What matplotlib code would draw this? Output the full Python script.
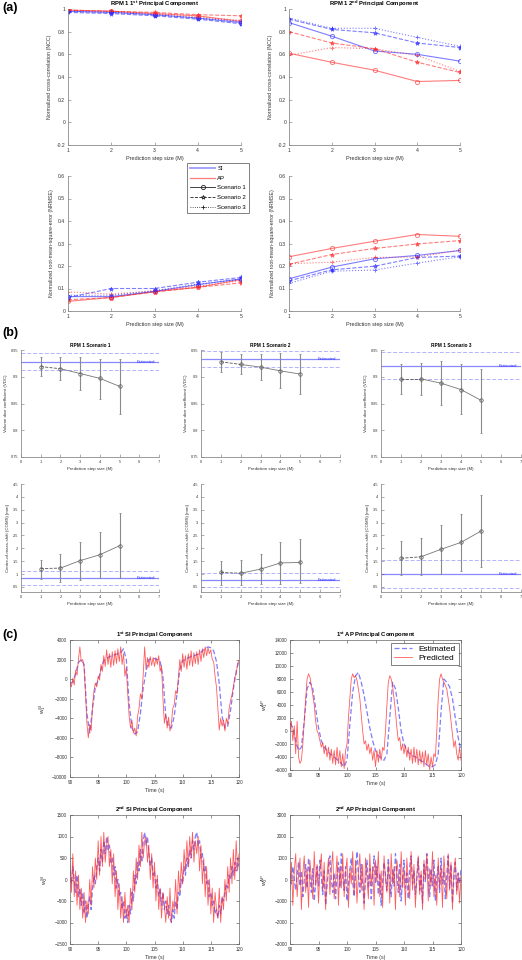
import numpy as np
import matplotlib
matplotlib.use('Agg')
import matplotlib.pyplot as plt
from matplotlib.lines import Line2D

plt.rcParams['font.family'] = ['Liberation Sans', 'DejaVu Sans']
plt.rcParams['mathtext.fontset'] = 'custom'
plt.rcParams['mathtext.rm'] = 'Liberation Sans'
plt.rcParams['mathtext.it'] = 'Liberation Sans:italic'
plt.rcParams['mathtext.bf'] = 'Liberation Sans:bold'

# ---------------- (a) prediction metrics vs step size ----------------
steps = [1, 2, 3, 4, 5]
scen_names = ['Scenario 1', 'Scenario 2', 'Scenario 3']

# rows: scenario 1, 2, 3
ncc_pc1_si = [[0.98, 0.97, 0.95, 0.92, 0.88],
              [0.97, 0.96, 0.94, 0.91, 0.87],
              [0.98, 0.97, 0.95, 0.92, 0.89]]
ncc_pc1_ap = [[0.99, 0.98, 0.96, 0.94, 0.89],
              [0.99, 0.98, 0.97, 0.95, 0.94],
              [0.99, 0.98, 0.96, 0.93, 0.90]]
ncc_pc2_si = [[0.88, 0.76, 0.63, 0.60, 0.54],
              [0.91, 0.82, 0.79, 0.70, 0.66],
              [0.92, 0.83, 0.83, 0.75, 0.67]]
ncc_pc2_ap = [[0.61, 0.53, 0.46, 0.36, 0.37],
              [0.80, 0.70, 0.65, 0.53, 0.44],
              [0.59, 0.66, 0.65, 0.59, 0.45]]
nrmse_pc1_si = [[0.064, 0.064, 0.087, 0.117, 0.143],
                [0.060, 0.100, 0.100, 0.128, 0.149],
                [0.070, 0.070, 0.090, 0.120, 0.140]]
nrmse_pc1_ap = [[0.043, 0.060, 0.086, 0.105, 0.140],
                [0.050, 0.060, 0.085, 0.105, 0.125],
                [0.085, 0.075, 0.090, 0.110, 0.135]]
nrmse_pc2_si = [[0.143, 0.195, 0.232, 0.247, 0.269],
                [0.134, 0.183, 0.199, 0.238, 0.244],
                [0.123, 0.177, 0.182, 0.213, 0.241]]
nrmse_pc2_ap = [[0.241, 0.278, 0.310, 0.340, 0.332],
                [0.208, 0.251, 0.278, 0.298, 0.313],
                [0.210, 0.217, 0.238, 0.240, 0.270]]

# ---------------- (b) VDC / COMS with error bars ----------------
vdc_mean = [[0.919, 0.915, 0.906, 0.897, 0.882],
            [0.928, 0.923, 0.918, 0.911, 0.905],
            [0.896, 0.896, 0.888, 0.876, 0.856]]
vdc_low = [[0.902, 0.893, 0.876, 0.859, 0.830],
           [0.909, 0.905, 0.893, 0.879, 0.868],
           [0.867, 0.865, 0.847, 0.830, 0.795]]
vdc_high = [[0.936, 0.936, 0.936, 0.933, 0.933],
            [0.946, 0.942, 0.942, 0.944, 0.942],
            [0.924, 0.926, 0.929, 0.924, 0.915]]
vdc_est = [0.928, 0.933, 0.921]
vdc_est_low = [0.912, 0.918, 0.895]
vdc_est_high = [0.944, 0.949, 0.946]

coms_mean = [[1.21, 1.23, 1.52, 1.75, 2.10],
             [1.06, 1.03, 1.19, 1.43, 1.45],
             [1.61, 1.67, 1.96, 2.23, 2.67]]
coms_low = [[0.81, 0.70, 0.75, 0.85, 0.85],
            [0.59, 0.59, 0.60, 0.61, 0.65],
            [0.95, 0.95, 1.01, 1.10, 1.26]]
coms_high = [[1.56, 1.78, 2.24, 2.65, 3.36],
             [1.49, 1.53, 1.78, 2.25, 2.37],
             [2.28, 2.41, 2.90, 3.35, 4.09]]
coms_est = [0.85, 0.77, 1.00]
coms_est_low = [0.57, 0.51, 0.45]
coms_est_high = [1.13, 1.03, 1.55]

# ---------------- (c) principal component time series ----------------
si1_est = [-450, -300, 600, 1700, 2000, 1500, -3500, -5500, -3000, -800,
           -100, 1000, 1900, 2100, 2300, 2400, 2500, 2600, 2700, 3100,
           2000, -2500, -5000, -5600, -5400, -3500, -900, 800, 2000, 2100,
           2100, 2000, 1800, 250, -3800, -4800, -5000, -3800, -1500, 1000,
           1900, 2000, 2200, 2300, 2400, 2500, 2600, 2900, 3100, 3300,
           3200, 2900, 1800, -500, -3800, -5000, -4800, -3200, -1000, 800,
           1900]
si1_pred = [-300, -800, 100, -600, 900, 400, 2000, 3300, 1800, 2000,
            1200, -1500, -4500, -6000, -4600, -5300, -2800, -1200, -400, -800,
            300, -100, 1500, 800, 2400, 1300, 3000, 1500, 2600, 1200,
            2800, 1400, 2900, 1600, 3100, 1800, 3300, 1500, 2600, 300,
            1200, -1500, -3800, -5000, -4200, -5500, -5000, -5800, -3800, -3000,
            -1500, -2000, 500, 3300, 1000, 2200, 1200, 2300, 1400, 2200,
            1300, 2200, 1500, 2400, 800, 1400, -2000, -4500, -3600, -5000,
            -3900, -5300, -4500, -3000, -2600, -1200, -1500, 300, 2000, 800,
            2600, 1200, 2400, 1000, 2600, 1400, 2900, 1300, 2700, 1600,
            2800, 1500, 3000, 1800, 3100, 2200, 3300, 2400, 3200, 2600,
            3000, 2000, 1800, 300, -800, -3000, -5200, -4000, -4800, -4200,
            -5300, -4000, -4600, -3000, -2200, -1600, -800, 200, 500, 1600,
            1900]

ap1_est = [1200, 500, -1500, -3000, -2500, 1500, 6500, 7500, 6500, 3500,
           500, -1500, -2500, -3000, -3500, -3800, -4200, -4600, -5000, -5500,
           -4500, 1000, 6000, 8500, 9000, 7500, 5500, 3000, 500, -1500,
           -3000, -3800, -4200, -4500, -3500, 2000, 7500, 6500, 3500, 0,
           -2000, -3000, -3500, -3800, -4000, -4300, -4600, -4800, -5200, -5500,
           -5500, -5200, -3500, 3000, 8000, 7500, 6800, 5000, 2000, -1000,
           -3000]
ap1_pred = [0, 1500, -1500, 800, -3500, 1500, -4000, -5000, -4500, -2000,
            1500, 5000, 8000, 8800, 8300, 7000, 5500, 4000, 1500, 0,
            -500, -1500, -2500, -1800, -3500, -2200, -4000, -2500, -4500, -2800,
            -5000, -3000, -5200, -2500, -5000, -3000, -5500, -3500, -5800, -3000,
            -2000, 2000, 5000, 8000, 8800, 8200, 8500, 7800, 6500, 5000,
            2500, 0, -2000, -1500, -3000, -2000, -3500, -2500, -4500, -3000,
            -5500, -3000, -4800, -2800, -4500, -2500, -3000, 0, 4000, 7500,
            8500, 8000, 7000, 5000, 3000, 500, -1500, -1000, -3000, -2000,
            -3500, -2200, -4000, -2500, -4500, -2800, -5000, -2500, -4800, -2800,
            -5200, -3000, -5000, -3200, -5500, -3000, -5200, -3500, -6000, -4000,
            -5500, -3500, -4000, 0, 5000, 8000, 8800, 8000, 7500, 7000,
            6500, 5000, 3500, 1500, -500, -2500, -1500, -3500, -4500, -2500,
            -4500]

si2_est = [200, -100, 300, 0, -300, 100, -400, -200, -600, -300,
           -800, -500, -900, -600, -400, -700, -200, 100, -100, 300,
           500, 200, 700, 400, 900, 600, 1000, 700, 800, 400,
           500, 100, 300, -200, 0, -400, -300, -700, -500, -900,
           -700, -1000, -600, -800, -300, -500, 100, -100, 400, 200,
           700, 400, 900, 1100, 800, 1000, 600, 300, 500, 100,
           200, -200, 0, -400, -200, -600, -300, -700, -500, -800,
           -600, -900, -1000, -700, -900, -500, -700, -300, -400, 0,
           -100, 300, 100, 500, 300, 700, 500, 900, 700, 1000,
           1100, 800, 900, 500, 600, 200, 300, -100, 0, -400,
           -300, -600, -500, -800, -700, -900, -600, -800, -400, -500,
           -300, -100, -200, 100, 0, 300, 100, 400, 200, 500,
           300]
si2_pred = [500, -300, 600, -400, 200, -600, 100, -700, -200, -900,
            -300, -1000, -500, -800, 0, -600, 300, -200, 500, 0,
            900, 100, 1000, 300, 1100, 400, 800, 1000, 300, 700,
            -100, 600, -400, 200, -700, -100, -900, -400, -1000, -300,
            -900, -600, -1000, -200, -700, 200, -300, 500, 0, 800,
            300, 1100, 500, 900, 1000, 400, 800, 0, 600, -200,
            400, -500, 100, -700, -200, -900, -300, -600, -1000, -400,
            -900, -200, -1000, -500, -700, 0, -800, 200, -300, 400,
            -100, 700, 200, 900, 300, 1000, 500, 1100, 400, 900,
            600, 1000, 200, 800, -100, 500, -400, 300, -600, 0,
            -800, -200, -1000, -300, -700, -900, -200, -1000, -400, -700,
            0, -500, 300, -300, 500, -100, 700, 0, 900, 200,
            600]

ap2_est = [300, -200, 600, 0, -500, 200, 800, -300, 400, -800,
           0, 700, -400, 1000, 200, -600, 500, -1000, -200, 600,
           -300, 900, 100, -700, 400, -1200, -300, 500, 1100, 0,
           -600, 300, -900, 200, 800, -400, 1200, 100, -500, 600,
           -1000, -200, 400, 1000, -100, -800, 300, 1300, 200, -600,
           700, -300, -1100, 0, 900, -400, 500, -900, 100, 1100,
           -200, 600, -700, 300, -1200, -100, 800, 200, -500, 1000,
           0, -800, 500, -300, 1200, 300, -600, 700, -1000, 100,
           900, -400, 300, -900, 600, 1100, -200, 400, -700, 0,
           1000, -500, 200, -1100, 700, -100, 1200, 300, -800, 500,
           -300, 900, -1000, 100, 600, -600, 1000, -200, 400, -900,
           200, 1100, -400, 700, -1100, 0, 800, -500, 300, -200,
           500]
ap2_pred = [-500, 800, -1200, 400, 1200, -800, 200, 1000, -1400, 300,
            1100, -600, 500, -1300, 900, 0, -900, 1300, -300, 700,
            -1100, 400, 1200, -500, 800, -1400, 200, 1000, -700, 500,
            1300, -900, 0, 1100, -1200, 600, -400, 1200, -800, 300,
            1000, -1300, 500, -200, 1300, -700, 900, -1100, 200, 1200,
            -500, 700, -1400, 1000, 100, -900, 1200, -300, 600, -1200,
            900, -100, 1300, -800, 400, -1300, 1100, 0, -600, 800,
            -1100, 1200, -200, 600, -1400, 900, 300, -800, 1300, -400,
            500, -1200, 1000, -100, -900, 1300, -500, 700, -1300, 200,
            1100, -700, 400, -1400, 900, 0, 1200, -1000, 500, -300,
            1300, -800, 200, -1200, 1000, -400, 600, -1300, 1100, 100,
            -900, 1200, -500, 800, -1400, 400, 1000, -700, 300, -1100,
            200]

W, H = 522, 960
fig = plt.figure(figsize=(W / 100, H / 100), dpi=100)


def px_axes(left, top, right, bottom):
    return fig.add_axes([left / W, 1 - bottom / H, (right - left) / W, (bottom - top) / H])


def style_open(ax, fs):
    # matlab style "box off"
    for s in ['top', 'right']:
        ax.spines[s].set_visible(False)
    for s in ['left', 'bottom']:
        ax.spines[s].set_color('#8c8c8c')
        ax.spines[s].set_linewidth(0.6)
    ax.tick_params(direction='in', length=2, width=0.5, color='#8c8c8c',
                   labelsize=fs, labelcolor='#333333', pad=2)


def style_box(ax, fs):
    for s in ax.spines.values():
        s.set_color('#666666')
        s.set_linewidth(0.5)
    ax.tick_params(direction='in', length=2, width=0.5, color='#666666',
                   labelsize=fs, labelcolor='#333333', pad=2,
                   top=True, right=True)


line_styles = ['-', '--', ':']
markers = ['o', '*', '+']
BLUE = (0.15, 0.15, 1.0)
RED = (1.0, 0.15, 0.15)


def metric_panel(ax, si, ap, ylim, yticks, ylabel, title=None):
    for i in range(3):
        for vals, col in [(ap, RED), (si, BLUE)]:
            ax.plot(steps, vals[i], color=col, alpha=0.6, lw=0.8,
                    ls=line_styles[i], marker=markers[i], ms=3,
                    mfc='none' if markers[i] == 'o' else col, mew=0.7)
    ax.set_xlim(1, 5)
    ax.set_xticks(steps)
    ax.set_ylim(*ylim)
    ax.set_yticks(yticks)
    ax.set_yticklabels([f'{v:g}' for v in yticks])
    ax.set_xlabel('Prediction step size (M)', fontsize=4, color='#333333', labelpad=2)
    ax.set_ylabel(ylabel, fontsize=3.8, color='#333333', labelpad=3)
    if title:
        ax.set_title(title, fontsize=4.2, fontweight='bold', pad=2)
    style_open(ax, 3.6)


ncc_ticks = [-0.2, 0, 0.2, 0.4, 0.6, 0.8, 1]
nrmse_ticks = [0, 0.1, 0.2, 0.3, 0.4, 0.5, 0.6]

ax = px_axes(68, 9, 241, 145)
metric_panel(ax, ncc_pc1_si, ncc_pc1_ap, (-0.2, 1), ncc_ticks,
             'Normalized cross-correlation (NCC)',
             r'RPM 1 1$^{\mathbf{st}}$ Principal Component')
ax = px_axes(289, 9, 460, 145)
metric_panel(ax, ncc_pc2_si, ncc_pc2_ap, (-0.2, 1), ncc_ticks,
             'Normalized cross-correlation (NCC)',
             r'RPM 1 2$^{\mathbf{nd}}$ Principal Component')
ax = px_axes(68, 176, 241, 311)
metric_panel(ax, nrmse_pc1_si, nrmse_pc1_ap, (0, 0.6), nrmse_ticks,
             'Normalized root-mean-square-error (NRMSE)')
ax = px_axes(289, 176, 460, 311)
metric_panel(ax, nrmse_pc2_si, nrmse_pc2_ap, (0, 0.6), nrmse_ticks,
             'Normalized root-mean-square-error (NRMSE)')

handles = [Line2D([], [], color=BLUE, alpha=0.45, lw=1.3),
           Line2D([], [], color=RED, alpha=0.6, lw=0.9)]
for i in range(3):
    handles.append(Line2D([], [], color='#222222', lw=0.6, ls=line_styles[i],
                          marker=markers[i], ms=3, mfc='none', mew=0.6))
leg = fig.legend(handles, ['SI', 'AP'] + scen_names, loc='upper left',
                 bbox_to_anchor=(187 / W, 1 - 163 / H), fontsize=4.3,
                 frameon=True, fancybox=False, edgecolor='#222222',
                 handlelength=4.2, labelspacing=0.75, borderpad=0.5,
                 handletextpad=0.4, borderaxespad=0)
leg.get_frame().set_linewidth(0.5)


# ---------------- (b) ----------------
def error_panel(ax, i, mean, low, high, est, est_low, est_high, ylim, yticks,
                ylabel, title, text_y):
    m = np.array(mean[i])
    yerr = [m - np.array(low[i]), np.array(high[i]) - m]
    ax.axhline(est[i], color=BLUE, alpha=0.55, lw=0.9)
    ax.axhline(est_low[i], color=BLUE, alpha=0.35, lw=0.7, ls='--', dashes=(4, 2))
    ax.axhline(est_high[i], color=BLUE, alpha=0.35, lw=0.7, ls='--', dashes=(4, 2))
    ax.errorbar(steps, m, yerr=yerr, fmt='none', ecolor='#8a8a8a',
                elinewidth=0.8, capsize=1.0, capthick=0.6)
    ax.plot(steps[:2], m[:2], ls='--', color='#555555', lw=0.6)
    ax.plot(steps[1:], m[1:], ls='-', color='#777777', lw=0.6)
    ax.plot(steps, m, 'o', mfc='none', mec='#555555', ms=2.5, mew=0.5)
    ax.text(6.35, text_y, 'Estimated', color='#3030ff', fontsize=3, ha='center',
            va='center')
    ax.set_xlim(0, 7)
    ax.set_xticks(range(8))
    ax.set_ylim(*ylim)
    ax.set_yticks(yticks)
    ax.set_yticklabels([f'{v:g}' for v in yticks])
    ax.set_xlabel('Prediction step size (M)', fontsize=3.2, color='#333333', labelpad=2)
    ax.set_ylabel(ylabel, fontsize=3.2, color='#333333', labelpad=2)
    if title:
        ax.set_title(title, fontsize=3.4, fontweight='bold', pad=2)
    style_open(ax, 2.8)


b_cols = [(21, 159), (201, 340), (381, 521)]
vdc_ticks = [0.75, 0.8, 0.85, 0.9, 0.95]
coms_ticks = [0.5, 1, 1.5, 2, 2.5, 3, 3.5, 4, 4.5]
for i, (l, r) in enumerate(b_cols):
    ax = px_axes(l, 350, r, 457)
    error_panel(ax, i, vdc_mean, vdc_low, vdc_high, vdc_est, vdc_est_low,
                vdc_est_high, (0.75, 0.95), vdc_ticks,
                'Volume dice coefficient (VDC)', f'RPM 1 {scen_names[i]}',
                vdc_est[i])
    ax = px_axes(l, 484, r, 592)
    error_panel(ax, i, coms_mean, coms_low, coms_high, coms_est, coms_est_low,
                coms_est_high, (0.3, 4.5), coms_ticks,
                'Centre-of-mass-shift (COMS) [mm]', None, coms_est[i])


# ---------------- (c) ----------------
def series_panel(ax, est, pred, ylim, yticks, ylabel, title):
    t_est = np.linspace(90, 120, len(est))
    t_pred = np.linspace(90, 120, len(pred))
    ax.plot(t_est, est, color=BLUE, alpha=0.6, lw=0.9, ls='--', dashes=(4, 2),
            label='Estimated')
    ax.plot(t_pred, pred, color=RED, alpha=0.75, lw=0.6, label='Predicted')
    ax.set_xlim(90, 120)
    ax.set_xticks(range(90, 121, 5))
    ax.set_ylim(*ylim)
    ax.set_yticks(yticks)
    ax.set_xlabel('Time (s)', fontsize=3.8, color='#333333', labelpad=2)
    ax.set_ylabel(ylabel, fontsize=4.5, color='#333333', labelpad=3)
    ax.set_title(title, fontsize=4.2, fontweight='bold', pad=2)
    style_box(ax, 3.3)


ax = px_axes(70, 640, 239, 777)
series_panel(ax, si1_est, si1_pred, (-10000, 4000), range(-10000, 4001, 2000),
             r'w$_1^{\mathrm{SI}}$', r'1$^{\mathbf{st}}$ SI Principal Component')
ax = px_axes(290, 640, 461, 770)
series_panel(ax, ap1_est, ap1_pred, (-6000, 14000), range(-6000, 14001, 2000),
             r'w$_1^{\mathrm{AP}}$', r'1$^{\mathbf{st}}$ AP Principal Component')
lg = ax.legend(loc='upper right', fontsize=6, fancybox=False, frameon=True,
               edgecolor='#222222', handlelength=2.2, borderpad=0.3,
               labelspacing=0.2, borderaxespad=0.3)
lg.get_frame().set_linewidth(0.5)
ax = px_axes(70, 815, 239, 944)
series_panel(ax, si2_est, si2_pred, (-1500, 1500), range(-1500, 1501, 500),
             r'w$_2^{\mathrm{SI}}$', r'2$^{\mathbf{nd}}$ SI Principal Component')
ax = px_axes(290, 815, 461, 944)
series_panel(ax, ap2_est, ap2_pred, (-3000, 3000), range(-3000, 3001, 1000),
             r'w$_2^{\mathrm{AP}}$', r'2$^{\mathbf{nd}}$ AP Principal Component')

# panel letters
for lab, y in [('(a)', 8), ('(b)', 333), ('(c)', 635)]:
    fig.text(2 / W, 1 - y / H, lab, fontsize=9, fontweight='bold', va='center', ha='left')

fig.savefig('out.png', dpi=100)
